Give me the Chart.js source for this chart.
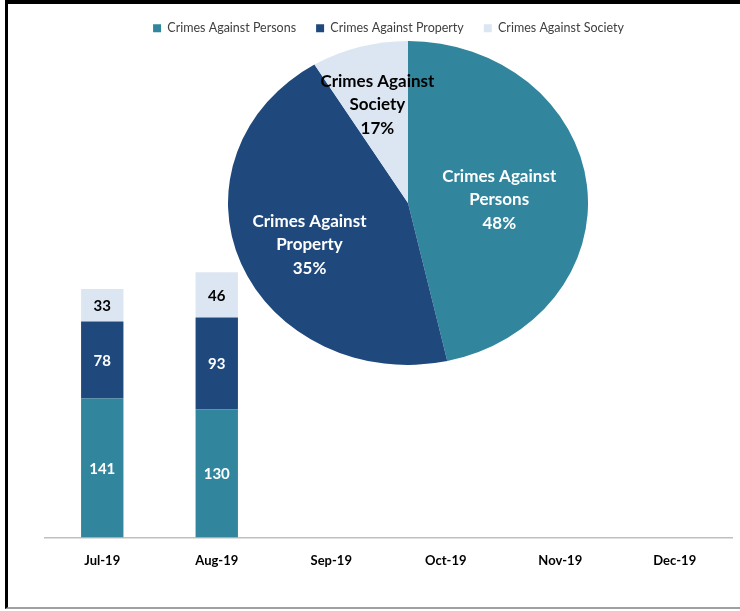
<!DOCTYPE html>
<html>
<head>
<meta charset="utf-8">
<script src="https://cdn.jsdelivr.net/npm/chart.js@4"></script>
<style>
  html, body { margin: 0; padding: 0; background: #fff; }
  #wrap { position: relative; width: 740px; height: 611px; overflow: hidden; }
  #frame { position: absolute; left: 5px; top: 0; width: 740px; height: 603px;
           border-top: 4px solid #000; border-left: 3px solid #000; border-bottom: 2px solid #a0a0a0; }
  #barChart { position: absolute; left: 0; top: 0; }
  #pieChart { position: absolute; left: 228px; top: 41px; }
</style>
</head>
<body>
<div id="wrap">
  <div id="frame"></div>
  <canvas id="barChart" width="740" height="611"></canvas>
  <canvas id="pieChart" width="360" height="324"></canvas>
</div>
<script>
// data
const months = ['Jul-19', 'Aug-19', 'Sep-19', 'Oct-19', 'Nov-19', 'Dec-19'];
const persons = [141, 130, null, null, null, null];
const property = [78, 93, null, null, null, null];
const society = [33, 46, null, null, null, null];

const seriesNames = ['Crimes Against Persons', 'Crimes Against Property', 'Crimes Against Society'];
const colors = ['#31859C', '#1F497D', '#DCE6F2'];

// pie slices as drawn (share of circle) and the labels printed on them
const pieShares = [46.5, 44.8, 8.7];
const pieTitles = [['Crimes Against', 'Persons'], ['Crimes Against', 'Property'], ['Crimes Against', 'Society']];
const piePct = ['48%', '35%', '17%'];

// value labels inside the stacked bars
const barLabels = {
  id: 'barLabels',
  afterDatasetsDraw(chart) {
    const ctx = chart.ctx;
    ctx.save();
    ctx.font = 'bold 15px Lato';
    ctx.textAlign = 'center';
    ctx.textBaseline = 'middle';
    chart.data.datasets.forEach((ds, i) => {
      const meta = chart.getDatasetMeta(i);
      meta.data.forEach((bar, j) => {
        const v = ds.data[j];
        if (v == null) return;
        ctx.fillStyle = i === 2 ? '#000' : '#fff';
        ctx.fillText(v, bar.x, (bar.y + bar.base) / 2 + 1);
      });
    });
    ctx.restore();
  }
};

new Chart(document.getElementById('barChart'), {
  type: 'bar',
  data: {
    labels: months,
    datasets: [
      { label: seriesNames[0], data: persons, backgroundColor: colors[0] },
      { label: seriesNames[1], data: property, backgroundColor: colors[1] },
      { label: seriesNames[2], data: society, backgroundColor: colors[2] }
    ]
  },
  options: {
    responsive: false,
    animation: false,
    layout: { padding: { left: 45, right: 8, top: 2, bottom: 34 } },
    datasets: { bar: { categoryPercentage: 1, barPercentage: 0.37 } },
    scales: {
      x: {
        stacked: true,
        grid: { display: false },
        border: { display: true, color: '#bfbfbf', width: 1.5 },
        ticks: { color: '#000', font: { family: 'Lato', weight: 'bold', size: 13 }, padding: 8 }
      },
      y: { stacked: true, display: false, min: 0, max: 500 }
    },
    plugins: {
      legend: {
        position: 'top',
        labels: {
          boxWidth: 8, boxHeight: 8, padding: 20, color: '#404040',
          font: { family: 'Lato', size: 12.5 }
        }
      },
      tooltip: { enabled: false }
    }
  },
  plugins: [barLabels]
});

// stretch the pie into an ellipse like the reference and write its labels
const ellipse = {
  id: 'ellipse',
  beforeDatasetsDraw(chart) {
    const arc = chart.getDatasetMeta(0).data[0];
    const ctx = chart.ctx;
    ctx.save();
    ctx.translate(arc.x, arc.y);
    ctx.scale(180 / arc.outerRadius, 1);
    ctx.translate(-arc.x, -arc.y);
  },
  afterDatasetsDraw(chart) {
    const ctx = chart.ctx;
    ctx.restore();
    const factors = [0.51, 0.59, 0.63];
    const shiftY = [6, 6, 0];
    ctx.save();
    ctx.font = 'bold 17px Lato';
    ctx.textAlign = 'center';
    ctx.textBaseline = 'middle';
    chart.getDatasetMeta(0).data.forEach((arc, i) => {
      const mid = (arc.startAngle + arc.endAngle) / 2;
      const f = factors[i];
      const x = arc.x + 180 * f * Math.cos(mid);
      const y = arc.y + arc.outerRadius * f * Math.sin(mid) + shiftY[i];
      const lines = pieTitles[i].concat(piePct[i]);
      ctx.fillStyle = i === 2 ? '#000' : '#fff';
      lines.forEach((t, k) => ctx.fillText(t, x, y + (k - 1) * 23.5));
    });
    ctx.restore();
  }
};

new Chart(document.getElementById('pieChart'), {
  type: 'pie',
  data: {
    labels: seriesNames,
    datasets: [{ data: pieShares, backgroundColor: colors, borderWidth: 0, hoverOffset: 0, offset: 0 }]
  },
  options: {
    responsive: false,
    animation: false,
    layout: { padding: 0 },
    plugins: { legend: { display: false }, tooltip: { enabled: false } }
  },
  plugins: [ellipse]
});
</script>
</body>
</html>
